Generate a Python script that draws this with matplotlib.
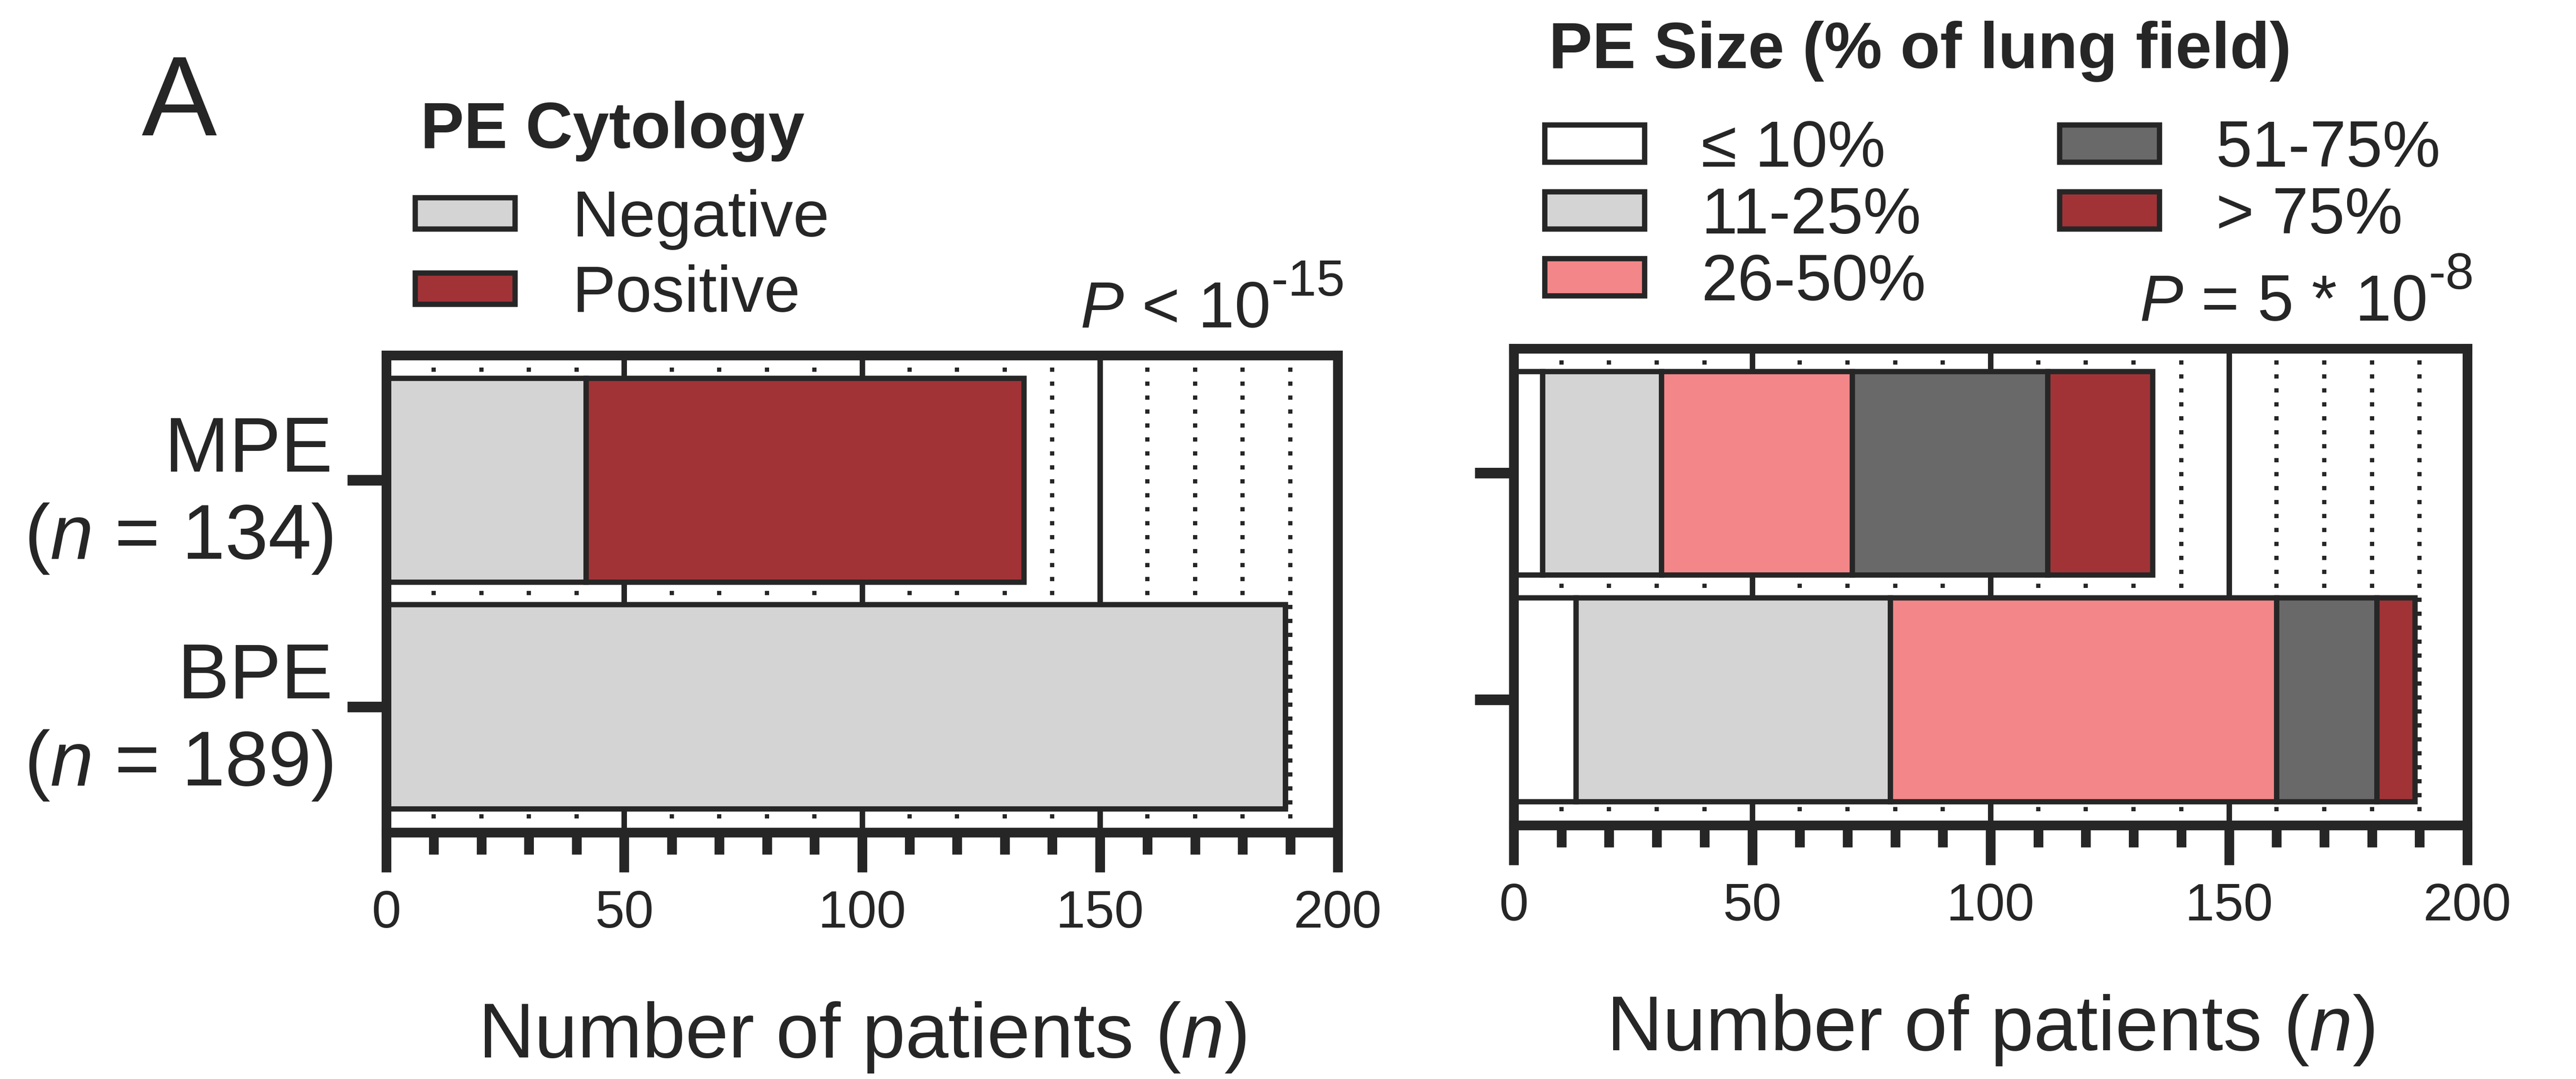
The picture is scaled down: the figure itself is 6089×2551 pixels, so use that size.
import matplotlib
matplotlib.use("Agg")
import matplotlib.pyplot as plt
from matplotlib.patches import Patch
from matplotlib.ticker import MultipleLocator

plt.rcParams['font.family'] = 'Liberation Sans'
plt.rcParams['mathtext.fontset'] = 'custom'
plt.rcParams['mathtext.rm'] = 'Liberation Sans'
plt.rcParams['mathtext.it'] = 'Liberation Sans:italic'
plt.rcParams['mathtext.bf'] = 'Liberation Sans:bold'

INK = '#262626'

# groups, bottom to top
groups = ['BPE', 'MPE']
group_n = [189, 134]

# PE cytology (counts per group, BPE first)
cytology_labels = ['Negative', 'Positive']
cytology_colors = ['#D4D4D4', '#A13337']
negative_counts = [189, 42]
positive_counts = [0, 92]

# PE size, % of lung field
size_labels = ['\u2264 10%', '11-25%', '26-50%', '51-75%', '> 75%']
size_colors = ['#FFFFFF', '#D4D4D4', '#F38688', '#696969', '#A13337']
size_le10 = [13, 6]
size_11_25 = [66, 25]
size_26_50 = [81, 40]
size_51_75 = [21, 41]
size_gt75 = [8, 22]

W, H, DPI = 6089, 2551, 300
fig = plt.figure(figsize=(W / DPI, H / DPI), dpi=DPI)


def px_box(x0, x1, ytop, ybot):
    return [x0 / W, 1 - ybot / H, (x1 - x0) / W, (ybot - ytop) / H]


ax1 = fig.add_axes(px_box(913, 3162, 840, 1968))
ax2 = fig.add_axes(px_box(3578, 5832, 824, 1951))

ypos = list(range(len(groups)))


def stacked(ax, series, colors):
    left = [0] * len(groups)
    for vals, col in zip(series, colors):
        ax.barh(ypos, vals, left=left, height=0.9, color=col,
                edgecolor=INK, linewidth=3)
        left = [a + b for a, b in zip(left, vals)]


def style(ax):
    ax.set_xlim(0, 200)
    ax.set_ylim(-0.555, 1.55)
    ax.xaxis.set_major_locator(MultipleLocator(50))
    ax.xaxis.set_minor_locator(MultipleLocator(10))
    ax.set_yticks(ypos)
    ax.set_axisbelow(True)
    ax.grid(axis='x', which='major', color=INK, lw=3.1)
    ax.grid(axis='x', which='minor', color=INK, lw=2.4, ls=(0, (1, 2.3)))
    for s in ax.spines.values():
        s.set_linewidth(5.5)
        s.set_color(INK)
    ax.tick_params(axis='x', which='major', length=22.5, width=5.5, color=INK,
                   labelsize=30, labelcolor=INK, pad=10)
    ax.tick_params(axis='x', which='minor', length=12.5, width=5.5, color=INK)
    ax.tick_params(axis='y', length=22, width=6, color=INK,
                   labelsize=44, labelcolor=INK, pad=8.4)
    ax.set_xlabel('Number of patients ($\\it{n}$)', fontsize=44, color=INK,
                  labelpad=35)


stacked(ax1, [negative_counts, positive_counts], cytology_colors)
style(ax1)
ax1.set_yticklabels([f'{g}\n($\\it{{n}}$ = {n})' for g, n in zip(groups, group_n)],
                    multialignment='right', linespacing=1.25)

stacked(ax2, [size_le10, size_11_25, size_26_50, size_51_75, size_gt75], size_colors)
style(ax2)
ax2.tick_params(axis='y', labelleft=False)

# legends
cyto_handles = [Patch(facecolor=c, edgecolor=INK, linewidth=3, label=l)
                for c, l in zip(cytology_colors, cytology_labels)]
fig.legend(handles=cyto_handles, loc='upper left',
           bbox_to_anchor=(981 / W, 1 - 447 / H), frameon=False,
           borderpad=0, borderaxespad=0, fontsize=37, handlelength=1.53,
           handleheight=0.36, handletextpad=0.88, labelspacing=0.22,
           labelcolor=INK)

size_handles = [Patch(facecolor=c, edgecolor=INK, linewidth=3, label=l)
                for c, l in zip(size_colors, size_labels)]
fig.legend(handles=size_handles, loc='upper left', ncol=2,
           bbox_to_anchor=(3651 / W, 1 - 282 / H), frameon=False,
           borderpad=0, borderaxespad=0, fontsize=37, handlelength=1.53,
           handleheight=0.5, handletextpad=0.87, labelspacing=0.09,
           columnspacing=2.05, labelcolor=INK)

fig.text(994 / W, 1 - 350 / H, 'PE Cytology', fontsize=37, fontweight='bold',
         color=INK, va='baseline')
fig.text(3661 / W, 1 - 161 / H, 'PE Size (% of lung field)', fontsize=37,
         fontweight='bold', color=INK, va='baseline')
fig.text(334 / W, 1 - 320 / H, 'A', fontsize=64, color=INK, va='baseline')


def p_value(ax, x_px, base_px, main, exponent):
    t = fig.text(x_px / W, 1 - base_px / H, main, fontsize=37, color=INK,
                 va='baseline')
    ax.annotate(exponent, xy=(1, 1), xycoords=t, xytext=(1.5, 12),
                textcoords='offset points', fontsize=29, color=INK,
                va='top', ha='left')


p_value(ax1, 2553, 774, '$\\it{P}$ < 10', '-15')
p_value(ax2, 5057, 758, '$\\it{P}$ = 5 * 10', '-8')

fig.savefig('out.png', dpi=DPI, facecolor='white')
